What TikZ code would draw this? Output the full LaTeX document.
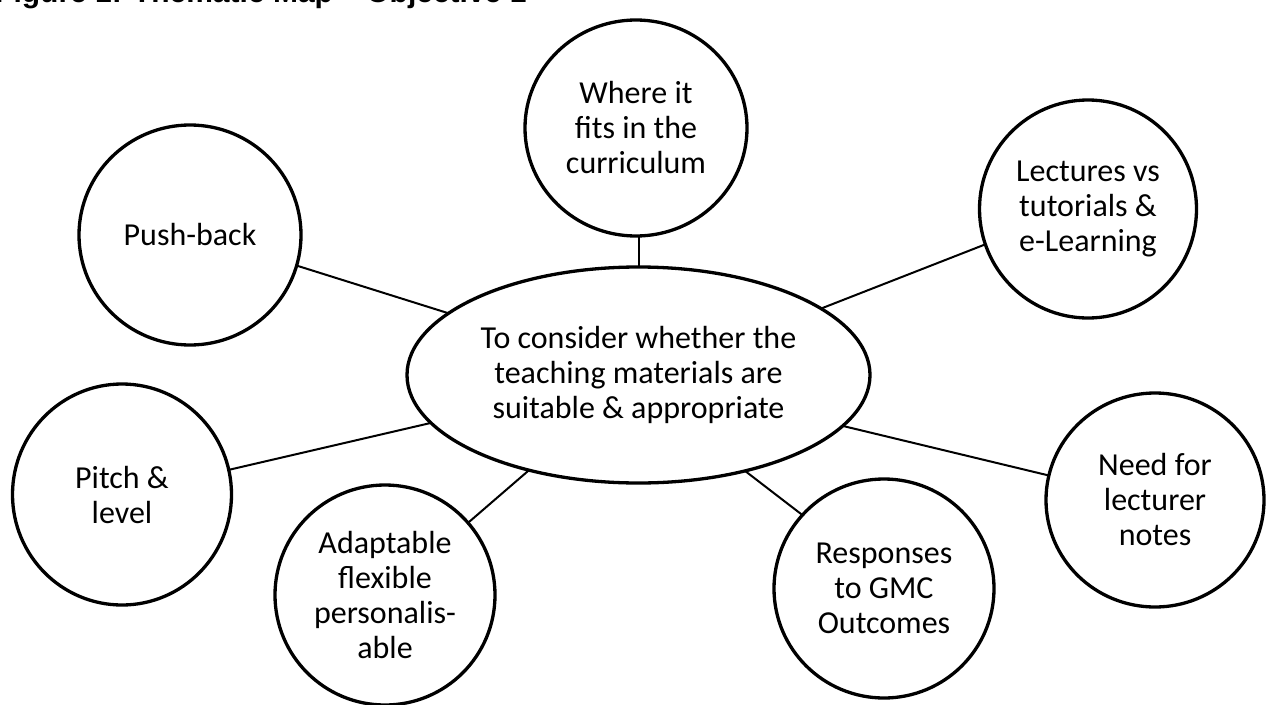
\documentclass[tikz,border=0pt]{standalone}
\usepackage{fontspec}
\setmainfont{Carlito}
\newfontfamily\titlefont{Liberation Sans}
\usetikzlibrary{shapes.geometric}
\begin{document}
\begin{tikzpicture}[x=1pt,y=-1pt,
  bubble/.style={ellipse, draw, line width=3.3pt, inner sep=0pt, outer sep=0pt,
    align=center, font=\fontsize{32}{35}\selectfont},
  link/.style={line width=2pt}]
\useasboundingbox (0,0) rectangle (1266,704);
\clip (0,0) rectangle (1266,704);
\node[anchor=base west, inner sep=0pt, font=\titlefont\bfseries\fontsize{30}{36}\selectfont] (title) at (-5,2.5) {Figure 1: Thematic Map – Objective 1};
\node[bubble, minimum width=463, minimum height=216] (main) at (638.5,375) {To consider whether the\\teaching materials are\\suitable \& appropriate};
\node[bubble, minimum width=222, minimum height=216] (where) at (636,128) {Where it\\fits in the\\curriculum};
\node[bubble, minimum width=222, minimum height=220] (push) at (190,235) {Push-back};
\node[bubble, minimum width=217, minimum height=218] (lect) at (1088,209) {Lectures vs\\tutorials \&\\e-Learning};
\node[bubble, minimum width=219, minimum height=221] (pitch) at (122,494.5) {Pitch \&\\level};
\node[bubble, minimum width=220, minimum height=220] (adapt) at (385,595) {Adaptable\\flexible\\personalis-\\able};
\node[bubble, minimum width=220, minimum height=219] (resp) at (884,588.5) {Responses\\to GMC\\Outcomes};
\node[bubble, minimum width=218, minimum height=214] (need) at (1155,500) {Need for\\lecturer\\notes};
\draw[link] (main.north) -- (main.north |- where.south);
\draw[link] (push.-16.8) -- (main.162.9);
\draw[link] (lect.199.9) -- (main.20.2);
\draw[link] (pitch.13.4) -- (main.193.3);
\draw[link] (adapt.41.4) -- (main.221.3);
\draw[link] (resp.138.7) -- (main.-42.1);
\draw[link] (need.167.7) -- (main.-14);
\end{tikzpicture}
\end{document}
